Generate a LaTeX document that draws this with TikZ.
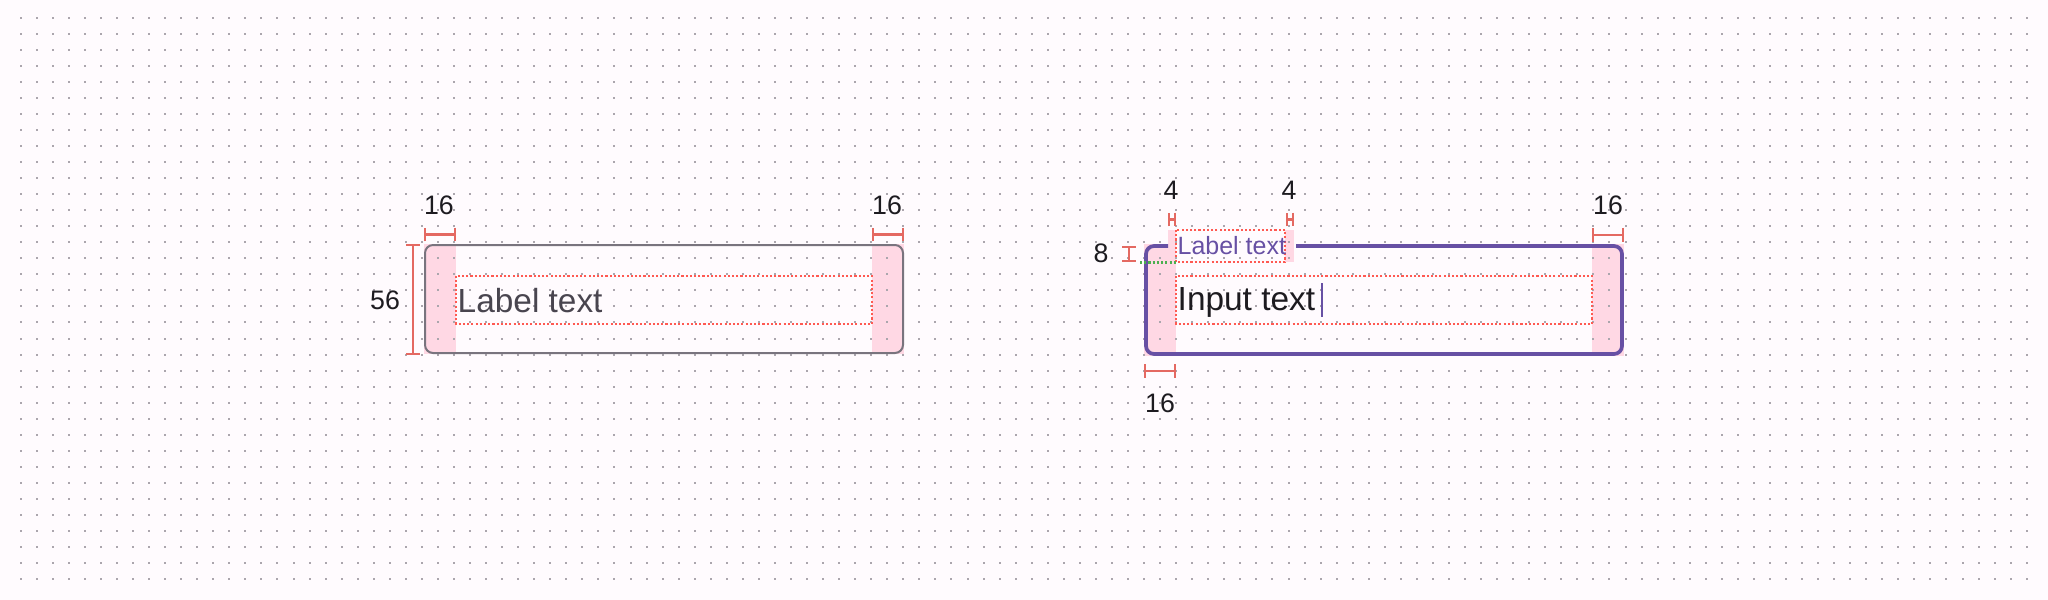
\documentclass[tikz,border=0pt]{standalone}
\usepackage{fontspec}
\setmainfont{Liberation Sans}
\usetikzlibrary{arrows.meta}
\definecolor{canvas}{HTML}{FFFBFE}
\definecolor{dotgray}{HTML}{ABA6AD}
\definecolor{dimred}{HTML}{E46962}
\definecolor{guidered}{HTML}{FF5A52}
\definecolor{padpink}{HTML}{FFD8E4}
\definecolor{outlinegray}{HTML}{79747E}
\definecolor{primary}{HTML}{6750A4}
\definecolor{ink}{HTML}{1D1B20}
\definecolor{inkvariant}{HTML}{49454F}
\definecolor{guidegreen}{HTML}{4CAF50}
\tikzset{
    spec/.style={x=0.01cm,y=-0.01cm},
    dim/.style={draw=dimred, line width=0.6pt, {Bar[width=3.9pt]}-{Bar[width=3.9pt]}},
    dimlabel/.style={text=ink, inner sep=0pt, font=\fontsize{7.6pt}{9pt}\selectfont},
    guide/.style={draw=guidered, line width=0.6pt, dash pattern=on 0.6pt off 0.6pt},
    greenguide/.style={draw=guidegreen, line width=0.6pt, dash pattern=on 0.6pt off 0.6pt},
    pad/.style={fill=padpink},
    fieldtext/.style={inner sep=0pt, font=\fontsize{9.5pt}{11pt}\selectfont},
    floatlabel/.style={inner sep=0pt, text=primary, font=\fontsize{7.1pt}{8.5pt}\selectfont},
    }

\begin{document}
\begin{tikzpicture}[spec]
    \useasboundingbox[fill=canvas] (0,0) rectangle (2048,600);

    % corners of the two fields
    \coordinate (lf-nw) at (424,244);
    \coordinate (lf-se) at (904,354);
    \coordinate (of-nw) at (1144,244);
    \coordinate (of-se) at (1624,356);

    % padding areas
    \fill[pad] (lf-nw) rectangle (456,354);
    \fill[pad] (872,244) rectangle (lf-se);
    \fill[pad] (of-nw) rectangle (1176,356);
    \fill[pad] (1592,244) rectangle (of-se);
    \fill[pad] (1168,230) rectangle (1176,262);
    \fill[pad] (1285,230) rectangle (1294,262);

    % dot grid
    \foreach \i in {0,...,125}
        \foreach \j in {0,...,35}
            \fill[dotgray] ({20.7+\i*16.048-1},{18.3+\j*16.01-1}) rectangle ++(2,2);

    % left field
    \draw[guide] (456,276) rectangle (872,324);
    \draw[outlinegray, line width=0.57pt, rounded corners=2.3pt] (425,245) rectangle (903,353);
    \node[fieldtext, text=inkvariant, anchor=base west] (lf-label) at (457,312) {Label text};

    % right field
    \draw[guide] (1176,276) rectangle (1592,324);
    \draw[guide] (1176,230) rectangle (1285,262);
    \draw[primary, line width=1.05pt, rounded corners=2.3pt]
        (1168,246) -- (1146,246) -- (1146,354) -- (1622,354) -- (1622,246) -- (1296,246);
    \node[floatlabel, anchor=base west] (of-label) at (1177,254) {Label text};
    \node[fieldtext, text=ink, anchor=base west] (of-input) at (1177,310) {Input text};
    \coordinate (cursor-top) at (1322,283);
    \coordinate (cursor-bot) at (1322,317);
    \draw[primary, line width=0.55pt] (cursor-top) -- (cursor-bot);

    % measurements, left field
    \coordinate (d1a) at (424,234.5);
    \coordinate (d1b) at (456,234.5);
    \draw[dim] (d1a) -- (d1b);
    \node[dimlabel] (d1) at (439,205) {16};
    \coordinate (d2a) at (872,234.5);
    \coordinate (d2b) at (904,234.5);
    \draw[dim] (d2a) -- (d2b);
    \node[dimlabel] (d2) at (887,205) {16};
    \coordinate (d3a) at (413,244);
    \coordinate (d3b) at (413,355);
    \draw[dim] (d3a) -- (d3b);
    \node[dimlabel] (d3) at (385,300) {56};

    % measurements, right field
    \coordinate (d4a) at (1168,219.5);
    \coordinate (d4b) at (1176,219.5);
    \draw[dim] (d4a) -- (d4b);
    \node[dimlabel] (d4) at (1171,190) {4};
    \coordinate (d5a) at (1285.5,219.5);
    \coordinate (d5b) at (1294,219.5);
    \draw[dim] (d5a) -- (d5b);
    \node[dimlabel] (d5) at (1289,190) {4};
    \coordinate (d6a) at (1129,246);
    \coordinate (d6b) at (1129,262);
    \draw[dim] (d6a) -- (d6b);
    \node[dimlabel] (d6) at (1101,253) {8};
    \coordinate (g1) at (1140,262.5);
    \coordinate (g2) at (1176,262.5);
    \draw[greenguide] (g1) -- (g2);
    \coordinate (d7a) at (1592,234.7);
    \coordinate (d7b) at (1624,234.7);
    \draw[dim] (d7a) -- (d7b);
    \node[dimlabel] (d7) at (1608,205) {16};
    \coordinate (d8a) at (1144,371);
    \coordinate (d8b) at (1176,371);
    \draw[dim] (d8a) -- (d8b);
    \node[dimlabel] (d8) at (1160,403) {16};
\end{tikzpicture}
\end{document}
